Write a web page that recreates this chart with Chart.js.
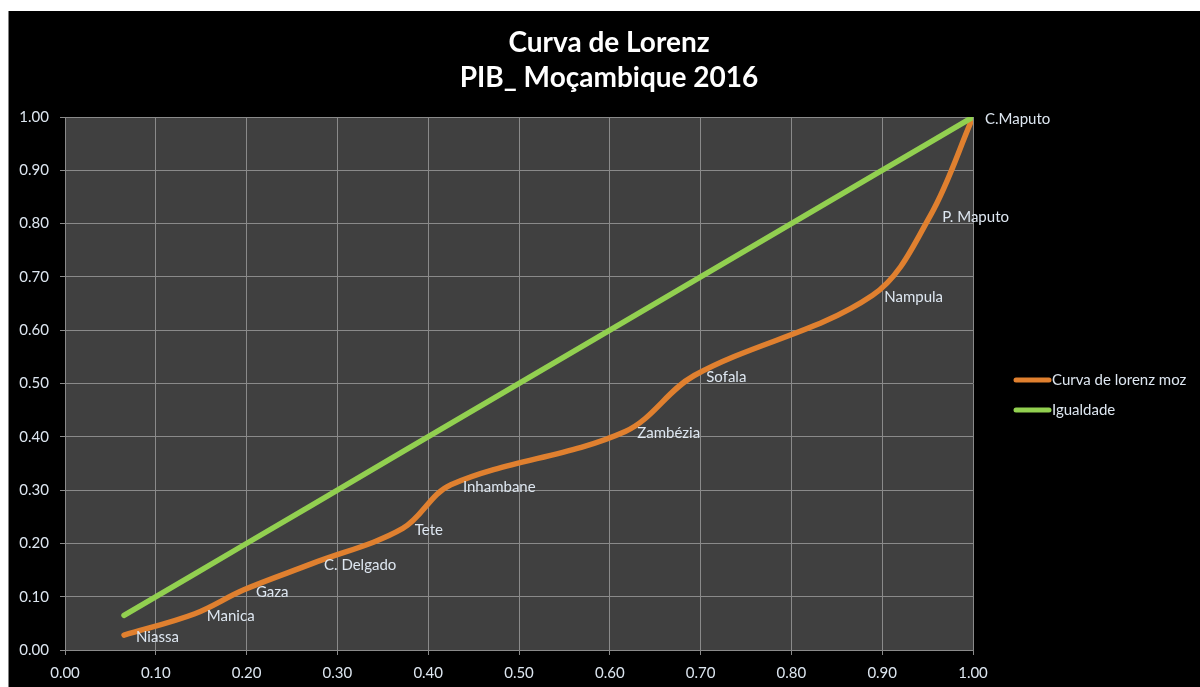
<!DOCTYPE html>
<html>
<head>
<meta charset="utf-8">
<script src="https://cdn.jsdelivr.net/npm/chart.js@4"></script>
<style>
  html,body{margin:0;padding:0;background:#fff;width:1200px;height:687px;overflow:hidden}
  #wrap{position:absolute;left:8px;top:11px;width:1191px;height:676px;background:#000;border-left:1px solid #808080}
  canvas{display:block}
</style>
</head>
<body>
<div id="wrap"><canvas id="c" width="1191" height="676"></canvas></div>
<script>
// ── data ──────────────────────────────
const provinces = ['Niassa','Manica','Gaza','C. Delgado','Tete','Inhambane','Zambézia','Sofala','Nampula','P. Maputo','C.Maputo'];
const popCum = [0.065,0.143,0.197,0.272,0.372,0.425,0.617,0.693,0.889,0.953,1.00];
const pibCum = [0.028,0.068,0.113,0.162,0.228,0.310,0.410,0.515,0.665,0.815,1.00];
const seriesNames = ['Curva de lorenz moz','Igualdade'];
const seriesColors = ['#E0802F','#92D050'];
const titleLines = ['Curva de Lorenz','PIB_ Moçambique 2016'];

const TXT='#dde6f0';
const FONT='Lato, "Open Sans", sans-serif';

const lorenz = popCum.map((x,i)=>({x, y:pibCum[i]}));
const equal  = popCum.map(x=>({x, y:x}));

// plot background
const plotBg = {
  id:'plotBg',
  beforeDraw(ch){
    const a=ch.chartArea, c=ch.ctx;
    c.save(); c.fillStyle='#404040';
    c.fillRect(a.left,a.top,a.right-a.left,a.bottom-a.top);
    c.restore();
  }
};

// title centred on the whole picture, not only the plot
const bigTitle = {
  id:'bigTitle',
  afterDraw(ch){
    const c=ch.ctx;
    c.save();
    c.font='bold 28px '+FONT; c.fillStyle='#fff';
    c.textAlign='center'; c.textBaseline='middle';
    titleLines.forEach((t,i)=>c.fillText(t, 600, 32+i*35));
    c.restore();
  }
};

// province names beside the lorenz points
const pointLabels = {
  id:'pointLabels',
  afterDatasetsDraw(ch){
    const c=ch.ctx, pts=ch.getDatasetMeta(0).data;
    c.save();
    c.font='15px '+FONT; c.fillStyle=TXT;
    c.textBaseline='middle'; c.textAlign='left';
    pts.forEach((p,i)=>c.fillText(provinces[i], p.x+12, p.y+2));
    c.restore();
  }
};

// legend on the right
const sideLegend = {
  id:'sideLegend',
  afterDraw(ch){
    const c=ch.ctx;
    c.save();
    c.font='15px '+FONT; c.textBaseline='middle';
    seriesNames.forEach((n,i)=>{
      const y=369+i*30;
      c.strokeStyle=seriesColors[i]; c.lineWidth=5; c.lineCap='round';
      c.beginPath(); c.moveTo(1007,y); c.lineTo(1040,y); c.stroke();
      c.fillStyle=TXT; c.fillText(n,1043,y);
    });
    c.restore();
  }
};

const gridCol='#8a8a8a';
const axisTicks = {
  color:TXT, font:{family:FONT,size:15},
  stepSize:0.1, callback:v=>Number(v).toFixed(2)
};

new Chart(document.getElementById('c'),{
  type:'scatter',
  data:{datasets:[
    {label:seriesNames[0], data:lorenz, showLine:true, borderColor:seriesColors[0], backgroundColor:seriesColors[0],
     borderWidth:5.5, tension:0.35, pointRadius:0, borderCapStyle:'round', order:1},
    {label:seriesNames[1], data:equal, showLine:true, borderColor:seriesColors[1], backgroundColor:seriesColors[1],
     borderWidth:5.5, tension:0, pointRadius:0, borderCapStyle:'round', order:0}
  ]},
  options:{
    responsive:false, animation:false,
    layout:{padding:{left:0,right:227,top:106,bottom:0}},
    plugins:{legend:{display:false}, tooltip:{enabled:false}, title:{display:false}},
    scales:{
      x:{type:'linear', min:0, max:1,
         grid:{color:gridCol, lineWidth:1, tickLength:5},
         border:{color:gridCol},
         ticks:{...axisTicks, padding:9},
         afterFit(s){s.height=37;}},
      y:{type:'linear', min:0, max:1,
         grid:{color:gridCol, lineWidth:1, tickLength:5},
         border:{color:gridCol},
         ticks:{...axisTicks, padding:11},
         afterFit(s){s.width=56;}}
    }
  },
  plugins:[plotBg,bigTitle,pointLabels,sideLegend]
});
</script>
</body>
</html>
